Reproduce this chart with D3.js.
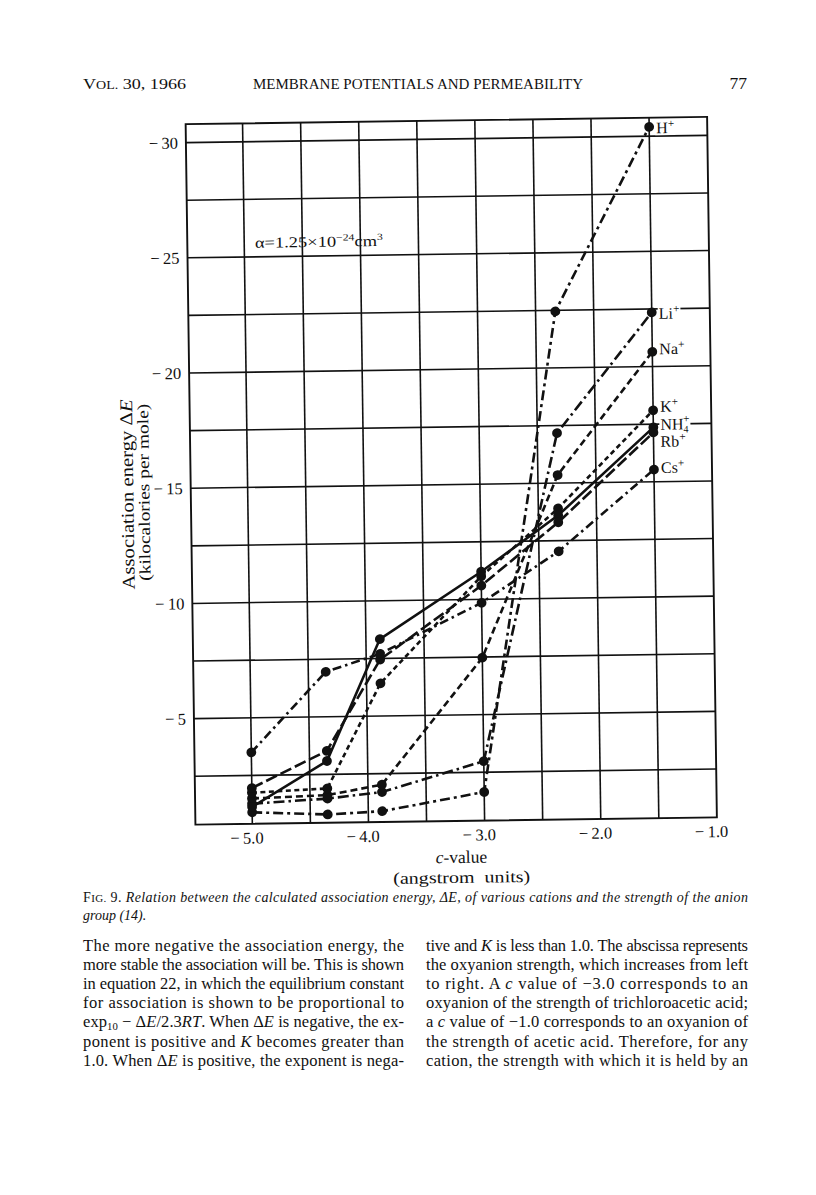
<!DOCTYPE html>
<html>
<head>
<meta charset="utf-8">
<script src="https://cdn.jsdelivr.net/npm/d3@7"></script>
<style>
  body { margin: 0; background: #fff; }
  svg { display: block; font-family: "Liberation Serif", "DejaVu Serif", serif; }
</style>
</head>
<body>
<svg id="page" width="816" height="1195"></svg>
<script>
// c-values of the anion groups (angstrom units)
const cValues = [-5.0, -4.35, -3.88, -3.0, -2.33, -1.5]
const cations = ['H', 'Li', 'Na', 'K', 'NH4', 'Rb', 'Cs']
// association energy, kcal/mole
const energyH   = [-0.9, -0.76, -0.87, -1.64, -22.45, -30.4]
const energyLi  = [-1.27, -1.45, -1.7, -2.98, -17.17, -22.35]
const energyNa  = [-1.5, -1.6, -2.02, -7.47, -15.35, -20.64]
const energyK   = [-1.75, -1.89, -6.42, -11.0, -13.9, -18.1]
const energyNH4 = [-1.13, -3.08, -8.34, -11.2, -13.6, -17.36]
const energyRb  = [-1.95, -3.52, -7.45, -10.6, -13.3, -17.14]
const energyCs  = [-3.5, -6.95, -7.7, -9.85, -12.04, -15.53]

const xTicks = [-5.0, -4.0, -3.0, -2.0, -1.0]
const yTicks = [-30, -25, -20, -15, -10, -5]
const xGrid = [-5.0, -4.5, -4.0, -3.5, -3.0, -2.5, -2.0, -1.5]
const yGrid = [-30, -27.5, -25, -22.5, -20, -17.5, -15, -12.5, -10, -7.5, -5, -2.5]

const leftLines = [
  'The more negative the association energy, the',
  'more stable the association will be. This is shown',
  'in equation 22, in which the equilibrium constant',
  'for association is shown to be proportional to',
  'exp~10~ \u2212 \u0394*E*/2.3*RT*. When \u0394*E* is negative, the ex-',
  'ponent is positive and *K* becomes greater than',
  '1.0. When \u0394*E* is positive, the exponent is nega-'
]
const rightLines = [
  'tive and *K* is less than 1.0. The abscissa represents',
  'the oxyanion strength, which increases from left',
  'to right. A *c* value of \u22123.0 corresponds to an',
  'oxyanion of the strength of trichloroacetic acid;',
  'a *c* value of \u22121.0 corresponds to an oxyanion of',
  'the strength of acetic acid. Therefore, for any',
  'cation, the strength with which it is held by an'
]

const series = [energyH, energyLi, energyNa, energyK, energyNH4, energyRb, energyCs]
  .map((vals, i) => ({ name: cations[i], values: vals }))

// line styles of the original print
const dashFor = {
  H: '10,4,3,4', Li: '11,4,2.5,4', Na: '7,4', K: '5,3.5',
  NH4: null, Rb: '12,4', Cs: '9,4,2.5,4'
}
const labelShift = { H: 1, Li: 1, Na: -3, K: -4, NH4: -3, Rb: 9, Cs: -2 }

const ink = '#111'
const svg = d3.select('#page')

// rich text: *italic*, ~subscript~
function addRich(sel, str) {
  let shift = 0
  str.split(/(\*[^*]+\*|~[^~]+~)/).filter(s => s).forEach(s => {
    let t = sel.append('tspan')
    if (s[0] === '*') { t.attr('font-style', 'italic').text(s.slice(1, -1)) }
    else if (s[0] === '~') { t.attr('font-size', '0.65em').attr('dy', 3).text(s.slice(1, -1)); shift = 3; return }
    else t.text(s)
    if (shift) { t.attr('dy', -shift); shift = 0 }
  })
}

// ---- running head
const head = svg.append('g').attr('fill', ink).attr('font-size', 15.5)
head.append('text').attr('x', 83).attr('y', 89)
  .attr('textLength', 103).attr('lengthAdjust', 'spacingAndGlyphs')
  .call(t => {
    t.append('tspan').text('V')
    t.append('tspan').attr('font-size', 12).text('OL.')
    t.append('tspan').text(' 30, 1966')
  })
head.append('text').attr('x', 418).attr('y', 89).attr('text-anchor', 'middle')
  .attr('textLength', 330).attr('lengthAdjust', 'spacingAndGlyphs')
  .attr('font-size', 15)
  .text('MEMBRANE POTENTIALS AND PERMEABILITY')
head.append('text').attr('x', 747).attr('y', 89).attr('text-anchor', 'end')
  .attr('font-size', 17.5).text('77')

// ---- figure (the print is a touch skewed on the page)
const fig = svg.append('g').attr('transform', 'rotate(-0.8 452 470)')

const x = d3.scaleLinear().domain([-5.49, -1.0]).range([190.5, 712])
const y = d3.scaleLinear().domain([-0.4, -30.8]).range([821, 120.5])
const [x0, x1] = x.domain(), [y0, y1] = y.domain()

const grid = fig.append('g').attr('stroke', ink).attr('stroke-width', 1.6)
grid.selectAll('line.v').data(xGrid).join('line').attr('class', 'v')
  .attr('x1', d => x(d)).attr('x2', d => x(d))
  .attr('y1', y(y0)).attr('y2', y(y1))
grid.selectAll('line.h').data(yGrid).join('line').attr('class', 'h')
  .attr('x1', x(x0)).attr('x2', x(x1))
  .attr('y1', d => y(d)).attr('y2', d => y(d))
grid.append('rect')
  .attr('x', x(x0)).attr('y', y(y1))
  .attr('width', x(x1) - x(x0)).attr('height', y(y0) - y(y1))
  .attr('fill', 'none').attr('stroke-width', 1.9)

const minus = v => '\u2212\u2009' + v

fig.append('g')
  .attr('transform', `translate(${x(x0)},0)`)
  .call(d3.axisLeft(y).tickValues(yTicks).tickSize(0).tickPadding(8).tickFormat(d => minus(Math.abs(d))))
  .call(g => g.select('.domain').remove())
  .attr('font-size', 16.5).attr('font-family', null)
  .selectAll('text').attr('fill', ink)

fig.append('g')
  .attr('transform', `translate(0,${y(y0)})`)
  .call(d3.axisBottom(x).tickValues(xTicks).tickSize(0).tickPadding(8).tickFormat(d => minus(Math.abs(d).toFixed(1))))
  .call(g => g.select('.domain').remove())
  .attr('font-size', 16.5).attr('font-family', null)
  .selectAll('text').attr('fill', ink).attr('dx', -6)

// axis titles
fig.append('text').attr('transform', 'translate(133,490) rotate(-90)')
  .attr('text-anchor', 'middle').attr('font-size', 18).attr('fill', ink)
  .attr('textLength', 190).attr('lengthAdjust', 'spacingAndGlyphs')
  .call(t => addRich(t, 'Association energy \u0394*E*'))
fig.append('text').attr('transform', 'translate(149,488) rotate(-90)')
  .attr('text-anchor', 'middle').attr('font-size', 16).attr('fill', ink)
  .attr('textLength', 177).attr('lengthAdjust', 'spacingAndGlyphs')
  .text('(kilocalories per mole)')
fig.append('text').attr('x', 456).attr('y', 863)
  .attr('text-anchor', 'middle').attr('font-size', 17.5).attr('fill', ink)
  .call(t => addRich(t, '*c*-value'))
fig.append('text').attr('x', 456).attr('y', 883)
  .attr('text-anchor', 'middle').attr('font-size', 16.5).attr('fill', ink)
  .attr('textLength', 137).attr('lengthAdjust', 'spacingAndGlyphs')
  .text('(angstrom\u2002units)')

// polarizability note
fig.append('text').attr('x', 258).attr('y', 245).attr('font-size', 15).attr('fill', ink)
  .attr('textLength', 128).attr('lengthAdjust', 'spacingAndGlyphs')
  .call(t => {
    t.append('tspan').text('\u03b1=1.25\u00d710')
    t.append('tspan').attr('font-size', 9.5).attr('dy', -6).text('\u221224')
    t.append('tspan').attr('dy', 6).text('cm')
    t.append('tspan').attr('font-size', 9.5).attr('dy', -6).text('3')
  })

// data lines
const line = d3.line().x((d, i) => x(cValues[i])).y(d => y(d))
const marks = fig.append('g')
marks.selectAll('path').data(series).join('path')
  .attr('d', d => line(d.values))
  .attr('fill', 'none').attr('stroke', ink).attr('stroke-width', 2.6)
  .attr('stroke-dasharray', d => dashFor[d.name])
marks.selectAll('g.pts').data(series).join('g').attr('class', 'pts')
  .selectAll('circle').data(d => d.values).join('circle')
  .attr('cx', (d, i) => x(cValues[i])).attr('cy', d => y(d))
  .attr('r', 4.9).attr('fill', ink)

// cation labels at the right-hand end
const lab = fig.append('g').attr('font-size', 16).attr('fill', ink)
series.forEach(s => {
  const last = s.values[s.values.length - 1]
  const g = lab.append('g')
  const t = g.append('text')
    .attr('x', x(cValues[cValues.length - 1]) + 7)
    .attr('y', y(last) + labelShift[s.name] + 5.5)
  if (s.name === 'NH4') {
    t.append('tspan').text('NH')
    t.append('tspan').attr('font-size', 10).attr('dy', 3).text('4')
    t.append('tspan').attr('font-size', 11.5).attr('dx', -5.5).attr('dy', -10).text('+')
  } else {
    t.append('tspan').text(s.name)
    t.append('tspan').attr('font-size', 11.5).attr('dy', -6).text('+')
  }
  const b = t.node().getBBox()
  g.insert('rect', 'text')
    .attr('x', b.x - 1).attr('y', b.y + 2).attr('width', b.width + 2).attr('height', b.height - 3)
    .attr('fill', '#fff')
})

// ---- caption
const cap = svg.append('text').attr('x', 83).attr('y', 902)
  .attr('font-size', 14).attr('fill', ink).attr('textLength', 665)
cap.append('tspan').text('F')
cap.append('tspan').attr('font-size', 11).text('IG.')
cap.append('tspan').text(' 9. ')
addRich(cap, '*Relation between the calculated association energy, \u0394E, of various cations and the strength of the anion*')
svg.append('text').attr('x', 83).attr('y', 920)
  .attr('font-size', 14).attr('fill', ink).attr('font-style', 'italic')
  .text('group (14).')

// ---- body text, two justified columns
const body = svg.append('g').attr('font-size', 16.5).attr('fill', ink)
leftLines.forEach((s, i) => {
  body.append('text').attr('x', 83).attr('y', 951 + i * 19.1)
    .attr('textLength', 321).attr('lengthAdjust', 'spacing')
    .call(t => addRich(t, s))
})
rightLines.forEach((s, i) => {
  body.append('text').attr('x', 426).attr('y', 951 + i * 19.1)
    .attr('textLength', 322).attr('lengthAdjust', 'spacing')
    .call(t => addRich(t, s))
})
</script>
</body>
</html>
